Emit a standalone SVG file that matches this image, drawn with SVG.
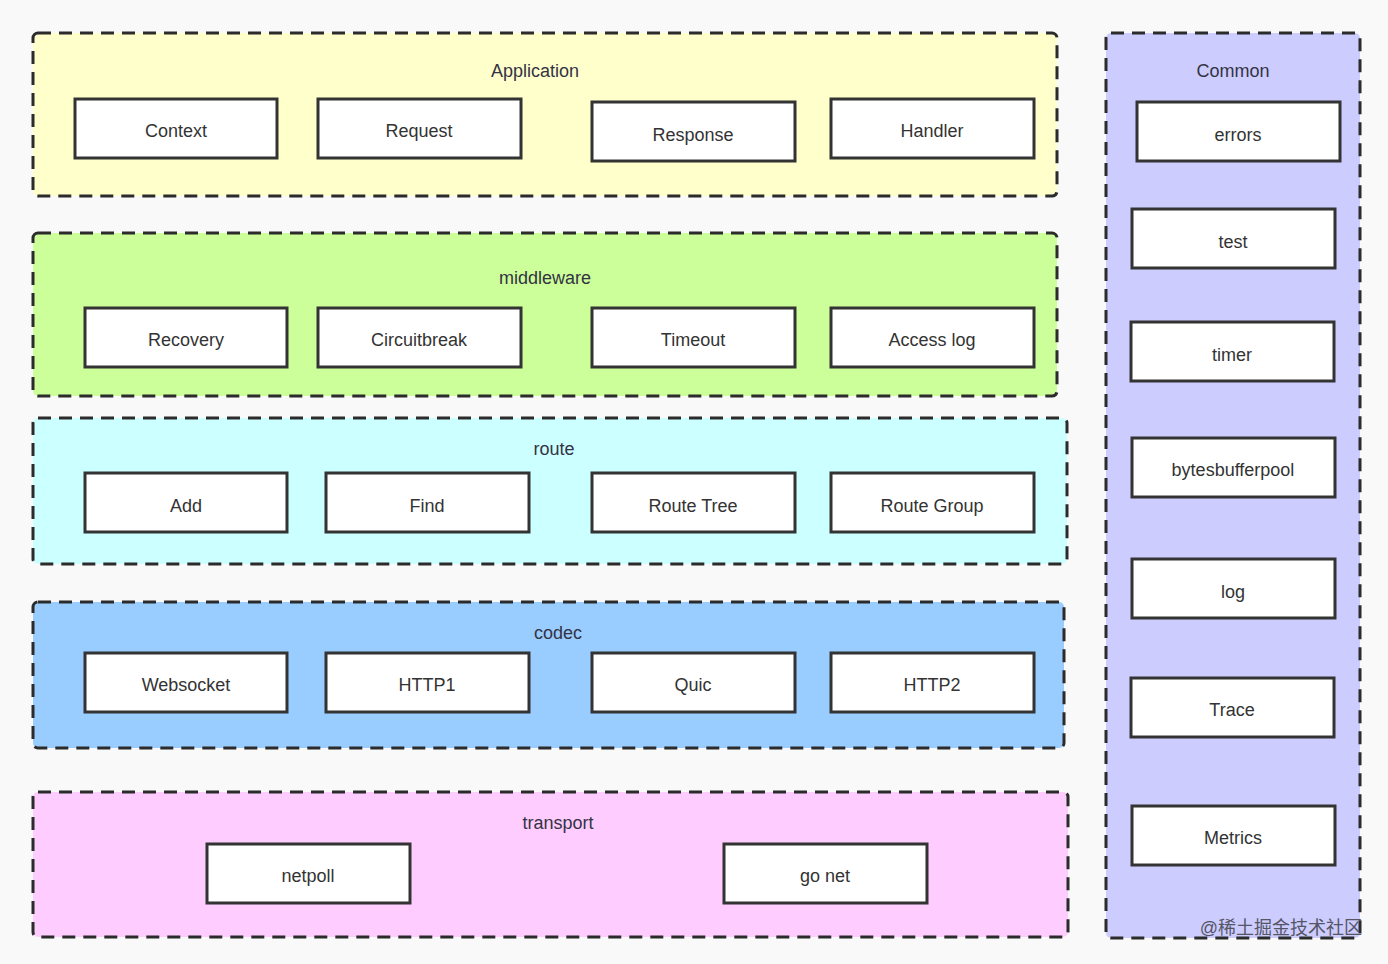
<svg xmlns="http://www.w3.org/2000/svg" width="1388" height="964" viewBox="0 0 1388 964">
<style>
.panel{stroke:#2b2b2b;stroke-width:3;stroke-dasharray:13 8;}
.node{fill:#ffffff;stroke:#333333;stroke-width:3;}
text{font-family:"Liberation Sans",Arial,sans-serif;font-size:18px;fill:#333333;text-anchor:middle;dominant-baseline:central;}
.title{fill:#333344;}
.wm{font-size:18px;fill:#555566;text-anchor:end;}
</style>
<rect x="0" y="0" width="1388" height="964" fill="#f9f9f9"/>
<g id="application">
<rect class="panel" x="33" y="33" width="1024" height="163" rx="5" fill="#ffffcc"/>
<text class="title" x="535" y="71">Application</text>
</g>
<g id="middleware">
<rect class="panel" x="33" y="233" width="1024" height="163" rx="5" fill="#ccff99"/>
<text class="title" x="545" y="278">middleware</text>
</g>
<g id="route">
<rect class="panel" x="33" y="418" width="1034" height="146" rx="5" fill="#ccffff"/>
<text class="title" x="554" y="449">route</text>
</g>
<g id="codec">
<rect class="panel" x="33" y="602" width="1031" height="146" rx="5" fill="#99ccff"/>
<text class="title" x="558" y="633">codec</text>
</g>
<g id="transport">
<rect class="panel" x="33" y="792" width="1035" height="145" rx="5" fill="#ffccff"/>
<text class="title" x="558" y="823">transport</text>
</g>
<g id="common">
<rect class="panel" x="1106" y="33" width="254" height="905" rx="5" fill="#ccccff"/>
<text class="title" x="1233" y="71">Common</text>
</g>
<g id="connectors"></g>
<g id="n-context"><rect class="node" x="75" y="99" width="202" height="59"/><text x="176" y="131">Context</text></g>
<g id="n-request"><rect class="node" x="318" y="99" width="203" height="59"/><text x="419" y="131">Request</text></g>
<g id="n-response"><rect class="node" x="592" y="102" width="203" height="59"/><text x="693" y="135">Response</text></g>
<g id="n-handler"><rect class="node" x="831" y="99" width="203" height="59"/><text x="932" y="131">Handler</text></g>
<g id="n-recovery"><rect class="node" x="85" y="308" width="202" height="59"/><text x="186" y="340">Recovery</text></g>
<g id="n-circuitbreak"><rect class="node" x="318" y="308" width="203" height="59"/><text x="419" y="340">Circuitbreak</text></g>
<g id="n-timeout"><rect class="node" x="592" y="308" width="203" height="59"/><text x="693" y="340">Timeout</text></g>
<g id="n-accesslog"><rect class="node" x="831" y="308" width="203" height="59"/><text x="932" y="340">Access log</text></g>
<g id="n-add"><rect class="node" x="85" y="473" width="202" height="59"/><text x="186" y="506">Add</text></g>
<g id="n-find"><rect class="node" x="326" y="473" width="203" height="59"/><text x="427" y="506">Find</text></g>
<g id="n-routetree"><rect class="node" x="592" y="473" width="203" height="59"/><text x="693" y="506">Route Tree</text></g>
<g id="n-routegroup"><rect class="node" x="831" y="473" width="203" height="59"/><text x="932" y="506">Route Group</text></g>
<g id="n-websocket"><rect class="node" x="85" y="653" width="202" height="59"/><text x="186" y="685">Websocket</text></g>
<g id="n-http1"><rect class="node" x="326" y="653" width="203" height="59"/><text x="427" y="685">HTTP1</text></g>
<g id="n-quic"><rect class="node" x="592" y="653" width="203" height="59"/><text x="693" y="685">Quic</text></g>
<g id="n-http2"><rect class="node" x="831" y="653" width="203" height="59"/><text x="932" y="685">HTTP2</text></g>
<g id="n-netpoll"><rect class="node" x="207" y="844" width="203" height="59"/><text x="308" y="876">netpoll</text></g>
<g id="n-gonet"><rect class="node" x="724" y="844" width="203" height="59"/><text x="825" y="876">go net</text></g>
<g id="n-errors"><rect class="node" x="1137" y="102" width="203" height="59"/><text x="1238" y="135">errors</text></g>
<g id="n-test"><rect class="node" x="1132" y="209" width="203" height="59"/><text x="1233" y="242">test</text></g>
<g id="n-timer"><rect class="node" x="1131" y="322" width="203" height="59"/><text x="1232" y="355">timer</text></g>
<g id="n-bytesbufferpool"><rect class="node" x="1132" y="438" width="203" height="59"/><text x="1233" y="470">bytesbufferpool</text></g>
<g id="n-log"><rect class="node" x="1132" y="559" width="203" height="59"/><text x="1233" y="592">log</text></g>
<g id="n-trace"><rect class="node" x="1131" y="678" width="203" height="59"/><text x="1232" y="710">Trace</text></g>
<g id="n-metrics"><rect class="node" x="1132" y="806" width="203" height="59"/><text x="1233" y="838">Metrics</text></g>
<text class="wm" x="1362" y="928" style="font-family:'Liberation Sans','Noto Sans CJK SC',sans-serif">@稀土掘金技术社区</text>
</svg>
